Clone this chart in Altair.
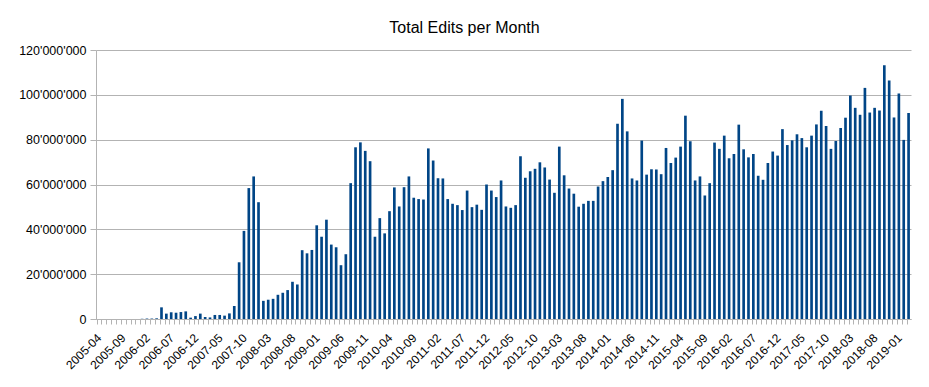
import altair as alt
import pandas as pd

chart_title = "Total Edits per Month"

# Monthly totals, in millions of edits
edits_2005 = [0, 0, 0, 0, 0, 0, 0, 0, 0]  # Apr..Dec
edits_2006 = [0.1, 0.2, 0.2, 0.3, 5.2, 2.4, 3.0, 2.8, 3.1, 3.4, 0.6, 1.3]
edits_2007 = [2.4, 0.9, 0.7, 1.8, 1.8, 1.5, 2.5, 5.8, 25.3, 39.3, 58.4, 63.6]
edits_2008 = [52.1, 8.1, 8.6, 9.0, 10.8, 11.7, 12.9, 16.6, 15.4, 30.7, 29.3, 30.8]
edits_2009 = [41.8, 36.7, 44.3, 33.2, 32.0, 24.0, 28.9, 60.6, 76.6, 78.8, 75.0, 70.4]
edits_2010 = [36.7, 45.0, 38.2, 48.1, 58.7, 50.2, 58.8, 63.6, 54.1, 53.5, 53.3, 76.1]
edits_2011 = [70.7, 62.8, 62.7, 53.5, 51.4, 50.8, 48.6, 57.3, 49.9, 51.0, 48.7, 60.0]
edits_2012 = [57.3, 54.4, 61.8, 50.2, 49.6, 50.8, 72.6, 63.0, 65.9, 67.0, 69.9, 67.6]
edits_2013 = [62.2, 56.3, 76.9, 64.1, 58.2, 55.9, 50.1, 51.4, 52.7, 52.7, 59.1, 61.5]
edits_2014 = [63.4, 66.4, 87.1, 98.2, 83.7, 62.7, 61.8, 79.6, 64.4, 66.8, 66.7, 64.6]
edits_2015 = [76.3, 69.6, 72.0, 76.9, 90.7, 79.3, 61.8, 63.6, 55.1, 60.6, 78.7, 75.9]
edits_2016 = [81.8, 71.7, 73.6, 86.7, 75.7, 72.1, 73.6, 63.9, 62.1, 69.6, 74.7, 72.9]
edits_2017 = [84.7, 77.6, 79.7, 82.4, 80.7, 76.6, 81.8, 86.8, 92.9, 86.1, 75.9, 79.4]
edits_2018 = [85.2, 89.8, 99.7, 94.2, 91.1, 103.1, 92.1, 94.2, 93.0, 113.2, 106.4, 89.9]
edits_2019 = [100.6, 79.9, 91.9]  # Jan..Mar

years = [
    (2005, 4, edits_2005), (2006, 1, edits_2006), (2007, 1, edits_2007),
    (2008, 1, edits_2008), (2009, 1, edits_2009), (2010, 1, edits_2010),
    (2011, 1, edits_2011), (2012, 1, edits_2012), (2013, 1, edits_2013),
    (2014, 1, edits_2014), (2015, 1, edits_2015), (2016, 1, edits_2016),
    (2017, 1, edits_2017), (2018, 1, edits_2018), (2019, 1, edits_2019),
]

rows = []
for year, first_month, vals in years:
    for k, v in enumerate(vals):
        rows.append({"month": f"{year}-{first_month + k:02d}", "edits": v * 1e6})
df = pd.DataFrame(rows)
months = list(df["month"])

tick_labels = months[::5]
y_ticks = [0, 20e6, 40e6, 60e6, 80e6, 100e6, 120e6]

x_label_expr = (
    "indexof([" + ",".join(f"'{m}'" for m in tick_labels) + "], datum.value) >= 0 ? datum.value : ''"
)
y_label_expr = "replace(format(datum.value, ','), regexp(',', 'g'), \"'\")"

grey = "#b3b3b3"
font = "Liberation Sans"

chart = (
    alt.Chart(df)
    .mark_bar(color="#004586")
    .encode(
        x=alt.X(
            "month:N",
            sort=months,
            scale=alt.Scale(paddingInner=0.45, paddingOuter=0.225),
            axis=alt.Axis(
                title=None,
                labelAngle=-45,
                labelExpr=x_label_expr,
                labelOverlap=False,
                bandPosition=0,
                labelOffset=-2.6,
                tickSize=5,
                tickColor=grey,
                domainColor=grey,
                labelFont=font,
                labelFontSize=12,
                labelColor="#000000",
                labelPadding=8,
                grid=False,
            ),
        ),
        y=alt.Y(
            "edits:Q",
            scale=alt.Scale(domain=[0, 120e6], nice=False),
            axis=alt.Axis(
                title=None,
                values=y_ticks,
                labelExpr=y_label_expr,
                grid=True,
                gridColor=grey,
                domainColor=grey,
                tickColor=grey,
                tickSize=6,
                labelPadding=4,
                labelFont=font,
                labelFontSize=12.5,
                labelColor="#000000",
            ),
        ),
    )
    .properties(
        width=815,
        height=269,
        title=alt.TitleParams(
            chart_title,
            font=font,
            fontSize=16,
            fontWeight="normal",
            color="#000000",
            anchor="middle",
            dx=-39,
            dy=22,
            baseline="alphabetic",
            offset=17,
        ),
        padding={"left": 88, "top": 42, "right": 5, "bottom": 55},
        autosize=alt.AutoSizeParams(type="none"),
    )
    .configure_view(stroke=None)
)

chart.save("out.html", embed_options={"renderer": "svg", "actions": False})
